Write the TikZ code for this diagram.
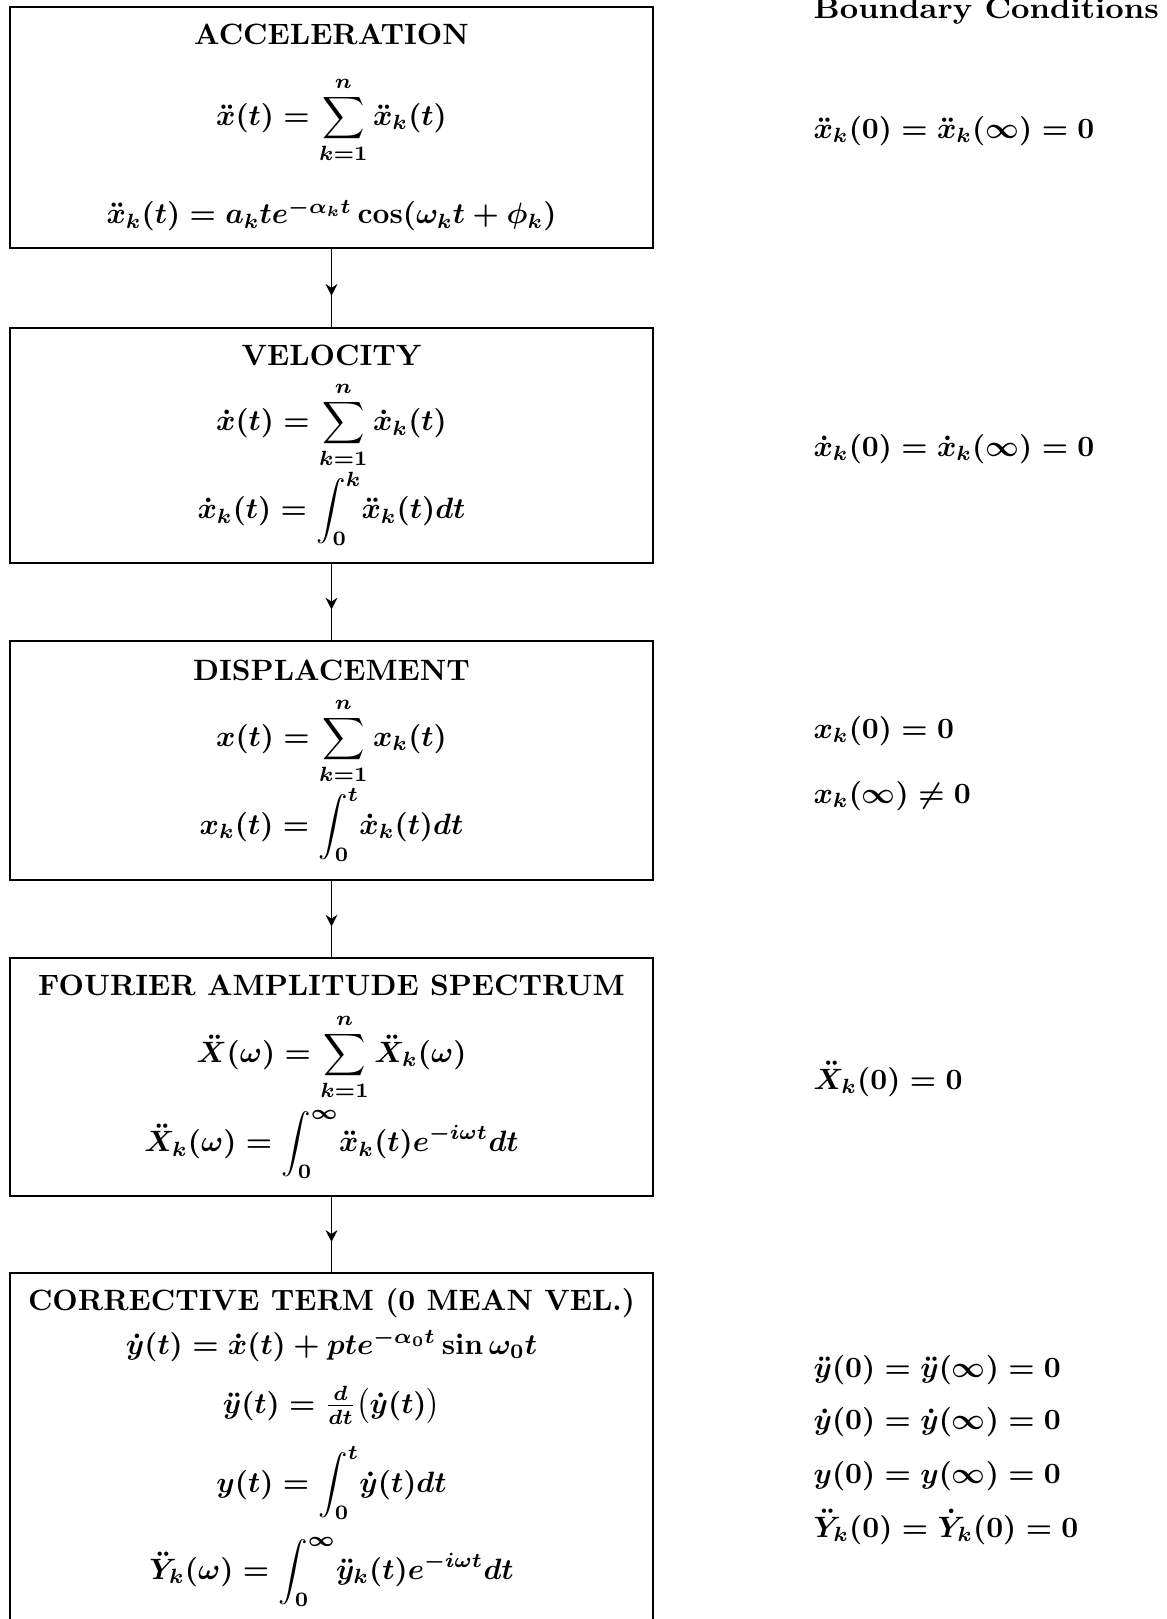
\documentclass[tikz,border=0pt]{standalone}
\usepackage{amsmath}
\usepackage{amssymb}
\usepackage{graphicx}
\usetikzlibrary{positioning, arrows.meta, decorations.markings}
\tikzset{
    stage/.style = {draw, line width=0.7pt, align=center, inner sep=0pt,
                    minimum width=218.6pt, font=\boldmath,
                    execute at begin node={\baselineskip=0pt\lineskiplimit=-\maxdimen}},
    flow/.style  = {line width=0.6pt,
                    decoration={markings,
                      mark=at position 0.6 with {\arrow{Stealth[length=4pt, width=4pt]}}},
                    postaction={decorate}},
    cond/.style  = {anchor=base west, inner sep=0pt, font=\boldmath}
}

\begin{document}
\begin{tikzpicture}[x=0.34pt, y=-0.34pt]
    \useasboundingbox (0,0) rectangle (1167,1619);

    \node[stage, minimum height=81.9pt] (accel) at (331.5,127.5)
        {\textbf{ACCELERATION}\\[27.5pt]
         $\displaystyle \ddot{x}(t) = \sum_{k=1}^{n}\ddot{x}_k(t)$\\[33.5pt]
         $\ddot{x}_k(t) = a_k t e^{-\alpha_k t}\cos(\omega_k t+\phi_k)$};
    \node[stage, minimum height=79.9pt] (veloc) at (331.5,445.5)
        {\textbf{VELOCITY}\\[22pt]
         $\displaystyle \dot{x}(t) = \sum_{k=1}^{n}\dot{x}_k(t)$\\[30pt]
         $\displaystyle \dot{x}_k(t) = \int_0^k\! \ddot{x}_k(t)dt$};
    \node[stage, minimum height=81.3pt] (displ) at (331.5,760.5)
        {\textbf{DISPLACEMENT}\\[22.5pt]
         $\displaystyle x(t) = \sum_{k=1}^{n}x_k(t)$\\[30pt]
         $\displaystyle x_k(t) = \int_0^t\! \dot{x}_k(t)dt$};
    \node[stage, minimum height=80.9pt] (fourier) at (331.5,1077)
        {\textbf{FOURIER AMPLITUDE SPECTRUM}\\[22.5pt]
         $\displaystyle \ddot{X}(\omega) = \sum_{k=1}^{n}\ddot{X}_k(\omega)$\\[30.5pt]
         $\displaystyle \ddot{X}_k(\omega) = \int_0^\infty\! \ddot{x}_k(t)e^{-i\omega t}dt$};
    % runs past the lower edge of the page
    \node[stage, minimum height=139.3pt] (correct) at (331.5,1477.8)
        {\textbf{CORRECTIVE TERM (0 MEAN VEL.)}\\[15pt]
         $\dot{y}(t) = \dot{x}(t) + pte^{-\alpha_0 t}\sin\omega_0 t$\\[20pt]
         $\ddot{y}(t) = \frac{d}{dt}\bigl(\dot{y}(t)\bigr)$\\[27pt]
         $\displaystyle y(t) = \int_0^t\! \dot{y}(t)dt$\\[29.5pt]
         $\displaystyle \ddot{Y}_k(\omega) = \int_0^\infty\! \ddot{y}_k(t)e^{-i\omega t}dt$\rule[-30pt]{0pt}{30pt}};

    \draw[flow] (accel.south) -- (veloc.north);
    \draw[flow] (veloc.south) -- (displ.north);
    \draw[flow] (displ.south) -- (fourier.north);
    \draw[flow] (fourier.south) -- (correct.north);

    % boundary conditions column
    \node[cond] (bchead) at (813,18)
        {\scalebox{1.09}[1]{\textbf{Boundary Conditions}}};
    \node[cond] (bc1) at (813,138) {$\ddot{x}_k(0) = \ddot{x}_k(\infty) = 0$};
    \node[cond] (bc2) at (813,456) {$\dot{x}_k(0) = \dot{x}_k(\infty) = 0$};
    \node[cond] (bc3) at (813,738) {$x_k(0) = 0$};
    \node[cond] (bc4) at (813,803) {$x_k(\infty) \neq 0$};
    \node[cond] (bc5) at (813,1089) {$\ddot{X}_k(0) = 0$};
    \node[cond] (bc6) at (813,1377) {$\ddot{y}(0) = \ddot{y}(\infty) = 0$};
    \node[cond] (bc7) at (813,1429) {$\dot{y}(0) = \dot{y}(\infty) = 0$};
    \node[cond] (bc8) at (813,1483) {$y(0) = y(\infty) = 0$};
    \node[cond] (bc9) at (813,1537) {$\ddot{Y}_k(0) = \dot{Y}_k(0) = 0$};
\end{tikzpicture}
\end{document}
